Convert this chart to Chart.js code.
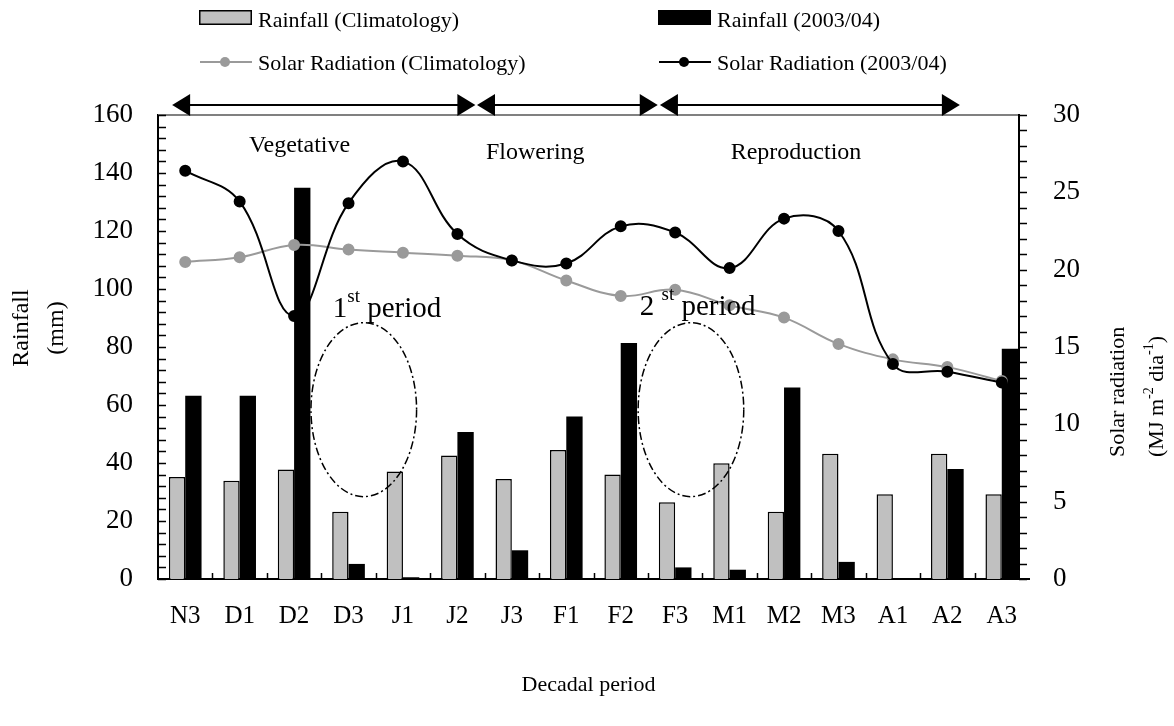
<!DOCTYPE html>
<html>
<head>
<meta charset="utf-8">
<script src="https://cdn.jsdelivr.net/npm/chart.js@4.4.1/dist/chart.umd.min.js"></script>
<style>
  html, body { margin: 0; padding: 0; background: #fff; }
  #wrap { width: 1174px; height: 726px; position: relative; }
</style>
</head>
<body>
<div id="wrap"><canvas id="mycanvas"></canvas></div>
<script>
// decadal periods (Nov 3rd decade .. Apr 3rd decade)
var periods = ['N3', 'D1', 'D2', 'D3', 'J1', 'J2', 'J3', 'F1', 'F2', 'F3', 'M1', 'M2', 'M3', 'A1', 'A2', 'A3'];
// rainfall, mm
var rainClim = [35.2, 33.9, 37.8, 23.2, 37.1, 42.6, 34.5, 44.5, 36.0, 26.5, 39.9, 23.2, 43.2, 29.2, 43.2, 29.2];
var rain0304 = [63.2, 63.2, 134.9, 5.2, 0.6, 50.7, 9.9, 56.0, 81.4, 4.0, 3.2, 66.0, 5.9, 0, 37.9, 79.4];
// solar radiation, MJ m-2 dia-1
var solarClim = [20.5, 20.8, 21.6, 21.3, 21.1, 20.9, 20.6, 19.3, 18.3, 18.7, 17.7, 16.9, 15.2, 14.2, 13.7, 12.8];
var solar0304 = [26.4, 24.4, 17.0, 24.3, 27.0, 22.3, 20.6, 20.4, 22.8, 22.4, 20.1, 23.3, 22.5, 13.9, 13.4, 12.7];
// axis ticks
var rainTicks = [0, 20, 40, 60, 80, 100, 120, 140, 160];
var solarTicks = [0, 5, 10, 15, 20, 25, 30];
// crop stages and critical periods
var stages = ['Vegetative', 'Flowering', 'Reproduction'];
var stageArrows = [[-0.24, 5.33], [5.36, 8.68], [8.72, 14.23]];
var stageLabelAt = [[2.1, 147.2], [6.43, 145], [11.22, 145]];
var periodLabels = [['1', 'st', ' period'], ['2 ', 'st', ' period']];
var periodLabelAt = [[2.71, 90.3], [8.35, 91]];
var ellipses = [[3.28, 58.4], [9.29, 58.4]];

var serif = '"Liberation Serif", "Times New Roman", serif';

function drawArrow(ctx, x1, x2, y) {
  var hl = 18, hh = 11;
  ctx.beginPath();
  ctx.moveTo(x1 + hl - 2, y);
  ctx.lineTo(x2 - hl + 2, y);
  ctx.stroke();
  ctx.beginPath();
  ctx.moveTo(x1, y); ctx.lineTo(x1 + hl, y - hh); ctx.lineTo(x1 + hl, y + hh);
  ctx.closePath(); ctx.fill();
  ctx.beginPath();
  ctx.moveTo(x2, y); ctx.lineTo(x2 - hl, y - hh); ctx.lineTo(x2 - hl, y + hh);
  ctx.closePath(); ctx.fill();
}

// text with superscript pieces: parts alternate normal / sup / normal ...
function supText(ctx, parts, x, y, size, supSize, rise) {
  for (var i = 0; i < parts.length; i++) {
    var sup = (i % 2 === 1);
    ctx.font = (sup ? supSize : size) + 'px ' + serif;
    ctx.fillText(parts[i], x, sup ? y - rise : y);
    x += ctx.measureText(parts[i]).width;
  }
}

var decor = {
  id: 'decor',
  afterDraw: function(chart) {
    var ctx = chart.ctx, a = chart.chartArea;
    var xs = chart.scales.x, yl = chart.scales.y, yr = chart.scales.y1;
    var ds = chart.data.datasets;
    var rightX = a.right - 10;
    ctx.save();

    // top frame line (grey) and right axis line
    ctx.strokeStyle = '#808080';
    ctx.lineWidth = 2;
    ctx.beginPath(); ctx.moveTo(a.left, a.top); ctx.lineTo(rightX, a.top); ctx.stroke();
    ctx.strokeStyle = '#000';
    ctx.beginPath(); ctx.moveTo(rightX, a.top - 1); ctx.lineTo(rightX, a.bottom + 1); ctx.stroke();

    // tick marks
    ctx.lineWidth = 1.5;
    ctx.beginPath();
    var v, py, px, i;
    for (v = rainTicks[0]; v <= rainTicks[rainTicks.length - 1]; v += 4) {
      py = Math.round(yl.getPixelForValue(v)) + 0.5;
      ctx.moveTo(a.left, py); ctx.lineTo(a.left + 8, py);
    }
    for (v = solarTicks[0]; v <= solarTicks[solarTicks.length - 1]; v += 1) {
      py = Math.round(yr.getPixelForValue(v)) + 0.5;
      ctx.moveTo(rightX, py); ctx.lineTo(rightX + 8, py);
    }
    for (i = 1; i < periods.length; i++) {
      px = Math.round(xs.getPixelForValue(i - 0.5)) + 0.5;
      ctx.moveTo(px, a.bottom); ctx.lineTo(px, a.bottom - 6);
    }
    ctx.stroke();

    // stage arrows
    ctx.fillStyle = '#000';
    ctx.lineWidth = 2;
    stageArrows.forEach(function(s) {
      drawArrow(ctx, xs.getPixelForValue(s[0]), xs.getPixelForValue(s[1]), a.top - 10);
    });

    // stage labels
    ctx.font = '24px ' + serif;
    ctx.textAlign = 'center';
    ctx.textBaseline = 'alphabetic';
    stages.forEach(function(s, k) {
      ctx.fillText(s, xs.getPixelForValue(stageLabelAt[k][0]), yl.getPixelForValue(stageLabelAt[k][1]));
    });

    // critical periods
    ctx.textAlign = 'left';
    periodLabels.forEach(function(p, k) {
      supText(ctx, p, xs.getPixelForValue(periodLabelAt[k][0]), yl.getPixelForValue(periodLabelAt[k][1]), 29, 19, 15);
    });
    ctx.lineWidth = 1.5;
    ctx.setLineDash([8, 3, 2, 3]);
    ellipses.forEach(function(e) {
      var cx = xs.getPixelForValue(e[0]), cy = yl.getPixelForValue(e[1]);
      var rx = xs.getPixelForValue(e[0] + 0.97) - cx;
      var ry = yl.getPixelForValue(e[1] - 30) - cy;
      ctx.beginPath();
      ctx.ellipse(cx, cy, rx, ry, 0, 0, Math.PI * 2);
      ctx.stroke();
    });
    ctx.setLineDash([]);

    // legend
    ctx.font = '22px ' + serif;
    ctx.textBaseline = 'alphabetic';
    var cols = [199, 658];
    // bars
    [2, 3].forEach(function(d, k) {
      ctx.fillStyle = ds[d].backgroundColor;
      ctx.fillRect(cols[k], 10, 53, 15);
      ctx.strokeStyle = '#000';
      ctx.lineWidth = 1.5;
      ctx.strokeRect(cols[k] + 0.75, 10.75, 51.5, 13.5);
      ctx.fillStyle = '#000';
      ctx.fillText(ds[d].label, cols[k] + 59, 27);
    });
    // lines
    [0, 1].forEach(function(d, k) {
      ctx.strokeStyle = ds[d].borderColor;
      ctx.lineWidth = 2;
      ctx.beginPath(); ctx.moveTo(cols[k] + 1, 62); ctx.lineTo(cols[k] + 53, 62); ctx.stroke();
      ctx.fillStyle = ds[d].pointBackgroundColor;
      ctx.beginPath(); ctx.arc(cols[k] + 26, 62, 5, 0, Math.PI * 2); ctx.fill();
      ctx.fillStyle = '#000';
      ctx.fillText(ds[d].label, cols[k] + 59, 70);
    });

    // axis titles
    ctx.fillStyle = '#000';
    ctx.save();
    ctx.translate(22, 328);
    ctx.rotate(-Math.PI / 2);
    ctx.font = '24px ' + serif;
    ctx.textAlign = 'center';
    ctx.textBaseline = 'middle';
    ctx.fillText('Rainfall', 0, 0);
    ctx.fillText('(mm)', 0, 35);
    ctx.restore();

    ctx.save();
    ctx.translate(1118, 457);
    ctx.rotate(-Math.PI / 2);
    ctx.textAlign = 'left';
    ctx.textBaseline = 'middle';
    ctx.font = '22px ' + serif;
    ctx.fillText('Solar radiation', 0, 0);
    supText(ctx, ['(MJ m', '-2', ' dia', '-1', ')'], 0, 39, 22, 14, 8);
    ctx.restore();

    ctx.font = '22px ' + serif;
    ctx.textAlign = 'center';
    ctx.textBaseline = 'middle';
    ctx.fillText('Decadal period', (a.left + rightX) / 2, 685);

    ctx.restore();
  }
};

var ctx = document.getElementById('mycanvas');
var chart = new Chart(ctx, {
  type: 'bar',
  data: {
    labels: periods,
    datasets: [
      {
        type: 'line',
        label: 'Solar Radiation (Climatology)',
        data: solarClim,
        yAxisID: 'y1',
        borderColor: '#9a9a9a',
        backgroundColor: '#9a9a9a',
        pointBackgroundColor: '#9a9a9a',
        pointBorderColor: '#9a9a9a',
        borderWidth: 2,
        pointRadius: 5,
        tension: 0.4,
        order: 1
      },
      {
        type: 'line',
        label: 'Solar Radiation (2003/04)',
        data: solar0304,
        yAxisID: 'y1',
        borderColor: '#000',
        backgroundColor: '#000',
        pointBackgroundColor: '#000',
        pointBorderColor: '#000',
        borderWidth: 2,
        pointRadius: 5,
        tension: 0.4,
        order: 0
      },
      {
        label: 'Rainfall (Climatology)',
        data: rainClim,
        yAxisID: 'y',
        backgroundColor: '#c0c0c0',
        borderColor: '#000',
        borderWidth: 1.5,
        order: 2
      },
      {
        label: 'Rainfall (2003/04)',
        data: rain0304,
        yAxisID: 'y',
        backgroundColor: '#000',
        borderColor: '#000',
        borderWidth: 0,
        order: 2
      }
    ]
  },
  options: {
    responsive: true,
    maintainAspectRatio: false,
    animation: false,
    layout: { padding: { top: 115, left: 0, right: 0, bottom: 0 } },
    plugins: { legend: { display: false }, tooltip: { enabled: false } },
    datasets: { bar: { categoryPercentage: 0.6, barPercentage: 1.0 } },
    scales: {
      x: {
        offset: true,
        grid: { display: false, drawTicks: false },
        border: { display: true, color: '#000', width: 2 },
        ticks: { color: '#000', font: { family: serif, size: 25 }, padding: 22, maxRotation: 0, autoSkip: false },
        afterFit: function(s) { s.height = 147; }
      },
      y: {
        position: 'left',
        min: 0,
        max: 160,
        afterBuildTicks: function(s) { s.ticks = rainTicks.map(function(v) { return { value: v }; }); },
        grid: { display: false, drawTicks: false },
        border: { display: true, color: '#000', width: 2 },
        ticks: { color: '#000', font: { family: serif, size: 27 }, padding: 25 },
        afterFit: function(s) { s.width = 158; }
      },
      y1: {
        position: 'right',
        min: 0,
        max: 30,
        afterBuildTicks: function(s) { s.ticks = solarTicks.map(function(v) { return { value: v }; }); },
        grid: { display: false, drawTicks: false },
        border: { display: false },
        ticks: { color: '#000', font: { family: serif, size: 27 }, padding: 24 },
        afterFit: function(s) { s.width = 145; }
      }
    }
  },
  plugins: [decor]
});
</script>
</body>
</html>
